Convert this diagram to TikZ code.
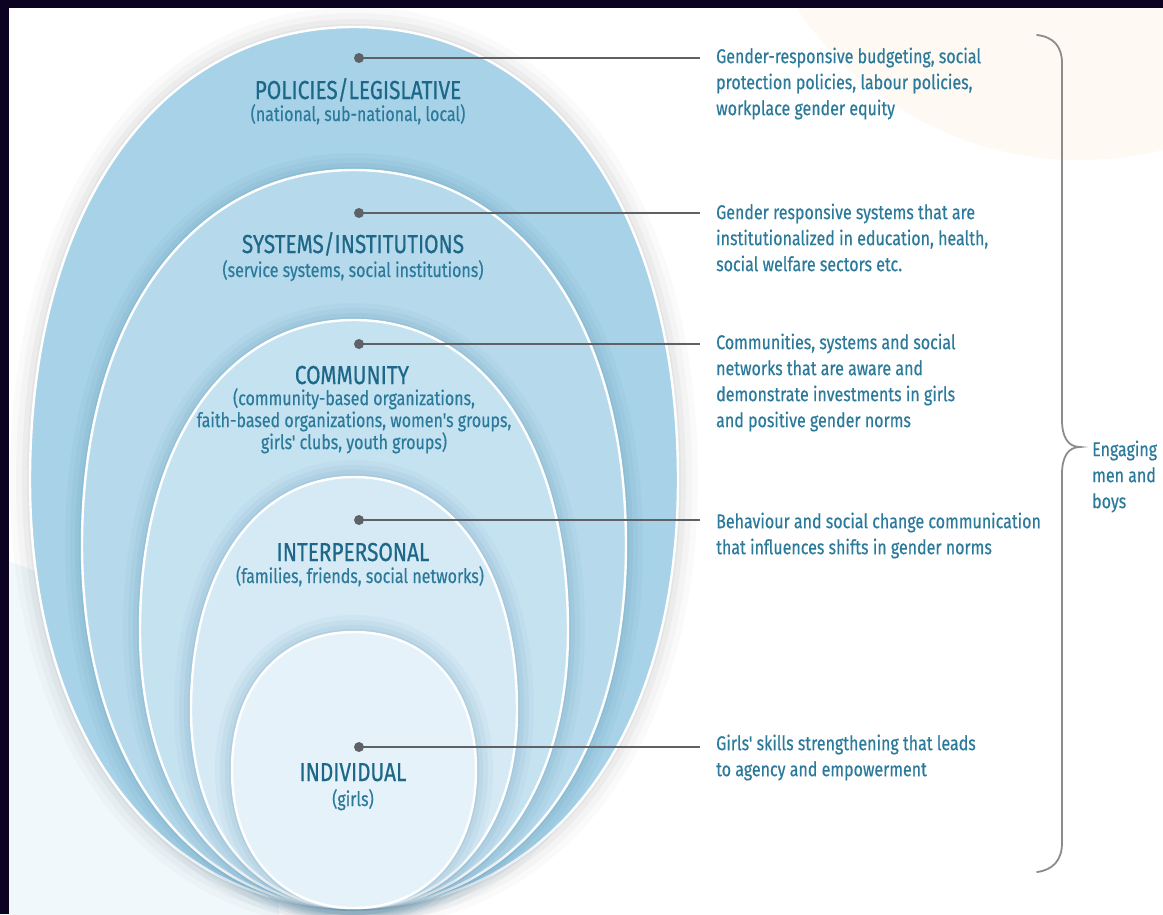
\documentclass[tikz,border=0pt]{standalone}
\usepackage{fontspec}
\newfontfamily\condensed{Fira Sans}[FakeStretch=0.80, FakeBold=0.4]
\newfontfamily\condensedhead{Fira Sans}[FakeStretch=0.80, FakeBold=0.6]
\newcommand\notefont{\condensed\fontsize{20}{26}\selectfont}
\newcommand\subfont{\condensed\fontsize{20}{22}\selectfont}
\newcommand\headfont{\condensedhead\fontsize{26}{30}\selectfont}

\definecolor{framecol}{HTML}{0C0322}
\definecolor{bandA}{HTML}{A7D2E8}
\definecolor{bandB}{HTML}{B6DAEC}
\definecolor{bandC}{HTML}{C5E2F1}
\definecolor{bandD}{HTML}{D5EAF5}
\definecolor{bandE}{HTML}{E6F2F9}
\definecolor{ink}{HTML}{2B7A9B}
\definecolor{headcol}{HTML}{1D6888}
\definecolor{wire}{HTML}{5E6266}
\definecolor{bracecol}{HTML}{8C8C8C}
\definecolor{shadecol}{HTML}{2F6F95}
\definecolor{cream}{HTML}{FEFAF3}
\definecolor{mist}{HTML}{F0F8FC}

% egg-shaped ring outline: top y, widest y, half width, bottom y
\newcommand{\egg}[4]{%
  (354,#1) .. controls ({354+0.6*#3},#1) and ({354+#3},{#2-0.6*(#2-#1)}) .. ({354+#3},#2)
  .. controls ({354+#3},{#2+0.6*(#4-#2)}) and ({354+0.6*#3},#4) .. (354,#4)
  .. controls ({354-0.6*#3},#4) and ({354-#3},{#2+0.6*(#4-#2)}) .. ({354-#3},#2)
  .. controls ({354-#3},{#2-0.6*(#2-#1)}) and ({354-0.6*#3},#1) .. (354,#1) -- cycle}

\begin{document}
\begin{tikzpicture}[x=1pt,y=-1pt,
  ring/.style={fill=#1, draw=white, line width=2.4pt},
  dotmark/.style={circle, fill=wire, minimum size=10pt, inner sep=0pt},
  leader/.style={draw=wire, line width=2pt},
  notetext/.style={anchor=north west, inner sep=0pt, align=left, text=ink, font=\notefont},
  headline/.style={anchor=base, inner sep=0pt, text=headcol, font=\headfont},
  sublabel/.style={anchor=base, inner sep=0pt, text=ink, font=\subfont},
  bracket/.style={draw=bracecol, line width=1.8pt, line cap=round}]

\useasboundingbox (0,0) rectangle (1163,914);

% backdrop
\begin{scope}
  \clip (0,0) rectangle (1163,914);
  \fill[white] (0,0) rectangle (1163,914);
  \fill[cream] (1080,-180) circle (340);
  \fill[mist] (-120,940) circle (400);
\end{scope}
\fill[framecol] (0,0) rectangle (1163,8);
\fill[framecol] (0,0) rectangle (9,914);

% soft drop shadow of the outer ring
\foreach \w/\o in {40/0.02,28/0.025,16/0.03,6/0.03}
  \draw[black, opacity=\o, line width=\w pt] \egg{27}{480}{324}{908};
\draw[ring=bandA] \egg{27}{480}{324}{908};

% nested rings, each casting a soft shadow on the one around it
\foreach \w/\o in {34/0.04,24/0.05,14/0.06,6/0.07}
  \draw[shadecol, opacity=\o, line width=\w pt] \egg{170}{545}{272}{908};
\draw[ring=bandB] \egg{170}{545}{272}{908};

\foreach \w/\o in {34/0.04,24/0.05,14/0.06,6/0.07}
  \draw[shadecol, opacity=\o, line width=\w pt] \egg{320}{630}{214}{908};
\draw[ring=bandC] \egg{320}{630}{214}{908};

\foreach \w/\o in {34/0.04,24/0.05,14/0.06,6/0.07}
  \draw[shadecol, opacity=\o, line width=\w pt] \egg{477}{710}{163}{908};
\draw[ring=bandD] \egg{477}{710}{163}{908};

\foreach \w/\o in {34/0.04,24/0.05,14/0.06,6/0.07}
  \draw[shadecol, opacity=\o, line width=\w pt] \egg{632}{770}{122}{908};
\draw[ring=bandE] \egg{632}{770}{122}{908};

% level labels
\node[headline] (h1) at (358,99) {POLICIES/LEGISLATIVE};
\node[sublabel] (s1) at (358,121) {(national, sub-national, local)};
\node[headline] (h2) at (353,253) {SYSTEMS/INSTITUTIONS};
\node[sublabel] (s2) at (353,277) {(service systems, social institutions)};
\node[headline] (h3) at (352,384) {COMMUNITY};
\node[sublabel, anchor=north, align=center] (s3) at (354,388)
  {\rule{0pt}{16pt}(community-based organizations,\\faith-based organizations, women's groups,\\girls' clubs, youth groups)};
\node[headline] (h4) at (353,561) {INTERPERSONAL};
\node[sublabel] (s4) at (360,583) {(families, friends, social networks)};
\node[headline] (h5) at (353,781) {INDIVIDUAL};
\node[sublabel] (s5) at (353,806) {(girls)};

% markers and leaders
\node[dotmark] (d1) at (359,58) {};
\node[dotmark] (d2) at (359,213) {};
\node[dotmark] (d3) at (359,344) {};
\node[dotmark] (d4) at (359,520) {};
\node[dotmark] (d5) at (359,747) {};
\coordinate (e1) at (700,58);
\coordinate (e2) at (700,213);
\coordinate (e3) at (700,344);
\coordinate (e4) at (700,520);
\coordinate (e5) at (700,747);
\foreach \i in {1,...,5} \draw[leader] (d\i.center) -- (e\i);

% outcome notes
\node[notetext] (t1) at (716,47) {\rule{0pt}{16pt}Gender-responsive budgeting, social\\protection policies, labour policies,\\workplace gender equity};
\node[notetext] (t2) at (716,203) {\rule{0pt}{16pt}Gender responsive systems that are\\institutionalized in education, health,\\social welfare sectors etc.};
\node[notetext] (t3) at (716,333) {\rule{0pt}{16pt}Communities, systems and social\\networks that are aware and\\demonstrate investments in girls\\and positive gender norms};
\node[notetext] (t4) at (716,512) {\rule{0pt}{16pt}Behaviour and social change communication\\that influences shifts in gender norms};
\node[notetext] (t5) at (716,734) {\rule{0pt}{16pt}Girls' skills strengthening that leads\\to agency and empowerment};

% brace gathering all levels
\coordinate (bt) at (1037,35);
\coordinate (bm) at (1080,447);
\coordinate (bb) at (1037,872);
\draw[bracket] (bt) .. controls (1054,37) and (1062,47) .. (1062,63)
  -- (1062,420) .. controls (1062,437) and (1068,447) .. (bm)
  .. controls (1068,447) and (1062,457) .. (1062,474)
  -- (1062,843) .. controls (1062,860) and (1053,870) .. (bb);
\node[notetext] (t6) at (1092,440) {\rule{0pt}{16pt}Engaging\\men and\\boys};
\end{tikzpicture}
\end{document}
